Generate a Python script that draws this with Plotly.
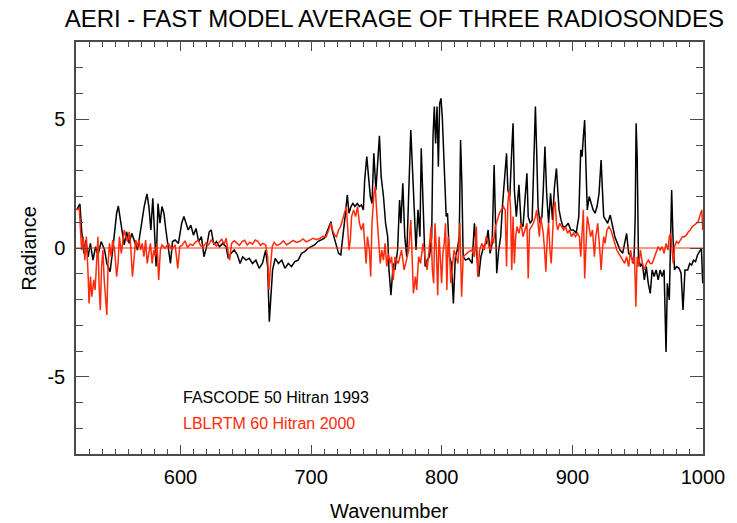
import plotly.graph_objects as go

# FASCODE 50 / Hitran 1993 residual (AERI minus fast model), radiance units
fascode_wn = [
    520.5, 523.0, 524.3, 526.0, 527.5, 529.3, 531.0, 533.0, 535.0, 536.8, 539.3, 541.9, 543.6, 546.1,
    548.1, 549.9, 551.1, 552.4, 553.9, 555.2, 556.9, 558.7, 560.7, 562.7, 564.7, 567.0, 568.7, 570.7,
    572.2, 574.3, 575.8, 577.3, 578.8, 580.3, 581.3, 582.8, 584.3, 585.8, 587.3, 588.8, 590.8, 592.3,
    593.9, 595.9, 598.4, 600.9, 602.6, 604.1, 605.9, 607.9, 609.9, 611.9, 613.9, 616.0, 618.0, 620.0,
    622.0, 623.5, 625.5, 627.5, 629.8, 632.3, 634.8, 636.6, 638.6, 641.1, 643.6, 645.6, 647.6, 650.1,
    652.6, 655.1, 657.7, 660.2, 662.7, 665.2, 666.7, 668.0, 669.2, 670.5, 672.5, 675.0, 677.5, 680.0,
    682.5, 685.0, 687.5, 690.1, 692.6, 695.1, 697.6, 700.1, 702.6, 705.1, 707.6, 710.2, 712.7, 715.2,
    716.4, 717.9, 719.4, 721.0, 722.7, 724.5, 726.0, 727.7, 729.0, 730.5, 732.0, 733.5, 735.3, 737.0,
    738.5, 740.0, 741.0, 742.6, 744.0, 745.3, 746.6, 748.0, 749.6, 751.0, 752.3, 753.6, 755.4, 757.0,
    758.6, 759.6, 761.1, 762.9,
    764.2, 766.2, 767.7, 768.7, 770.2, 771.7, 773.2, 774.7, 776.3, 777.3, 778.3, 779.3, 780.3, 781.8,
    783.3, 784.3, 785.3, 786.3, 787.3, 788.8, 790.6, 792.3, 793.3, 794.3, 795.3, 796.4, 797.4, 798.4,
    799.4, 800.4, 801.4, 802.4, 803.4, 804.4, 805.9, 807.4, 808.9, 810.4, 811.9, 813.4, 814.4, 815.4,
    816.4, 818.2, 820.7, 823.2, 825.0, 826.5, 828.3, 830.0, 832.0, 834.0, 835.5, 837.0, 838.6, 840.1,
    841.1, 842.1, 843.6, 845.1, 846.6, 848.1, 849.6, 850.6, 852.1, 853.6, 854.6, 855.6, 857.1, 859.1,
    860.7, 862.2, 863.7, 865.2, 866.2, 867.7, 869.2, 870.7, 871.7, 872.7, 873.7, 875.2, 876.7, 877.7,
    879.0, 880.3, 881.8, 883.3, 884.8, 886.3, 887.8, 888.8, 889.8, 891.3, 892.8, 894.8, 896.8, 898.8,
    900.8, 902.9, 904.9, 906.4, 907.4, 908.4, 909.4, 910.4, 911.4, 912.9, 914.4, 915.9, 917.4, 918.9,
    920.4, 922.0, 923.0, 924.0, 925.5, 927.0, 929.0, 930.5, 932.5, 934.5, 936.5, 938.5, 940.0, 941.5,
    943.1, 945.1, 947.1, 948.1, 948.8, 949.6, 950.6, 952.1, 953.6, 955.1, 956.6, 958.1, 959.6, 961.1,
    962.6, 964.1, 965.7, 967.2, 968.7, 970.2, 971.7, 972.7, 974.2, 975.2, 976.0, 977.0, 978.2, 979.7,
    981.7, 983.2, 984.7, 986.2, 988.3, 989.8, 991.3, 992.8, 994.3, 995.8, 997.8, 998.8, 999.8,
]
fascode_rad = [
    1.48, 1.71, 0.70, -0.21, 0.31, -0.34, 0.18, -0.47, 0.05, -0.27, 0.25, -0.08, -0.60, -0.92,
    -0.08, 0.70, 1.35, 1.63, 1.09, 0.63, 0.12, 0.63, 0.18, 0.57, 0.25, -0.08, 0.44, 1.09,
    1.61, 2.10, 1.61, 0.70, 1.93, 0.44, -0.72, 1.73, 0.96, 1.61, 1.35, 0.70, -0.08, -0.60,
    0.25, 0.31, 0.18, 0.96, 1.22, 1.02, 0.70, 0.89, 0.50, 0.76, 0.25, 0.44, -0.34, 0.05,
    0.63, 0.70, 0.12, 0.25, 0.05, 0.18, 0.05, -0.40, -0.21, -0.08, -0.27, -0.60, -0.34, -0.47,
    -0.40, -0.60, -0.47, -0.79, -0.60, -0.08, -0.72, -2.86, -1.63, -0.85, -0.40, -0.60, -0.47, -0.79,
    -0.60, -0.72, -0.53, -0.47, -0.21, -0.14, -0.01, 0.05, 0.12, 0.25, 0.31, 0.38, 0.70, 1.02,
    0.63, 0.38, 0.05, -0.21, -0.27, 0.44, 1.22, 2.06, 1.35, 1.61, 1.73, 1.61, 1.73, 1.61,
    1.67, 1.48, 2.64, 3.55, 2.77, 2.00, 1.73, 3.68, 2.25, 3.42, 4.36, 2.77, 2.00, 0.96,
    0.44, -0.85, -1.83, -0.60,
    -0.85, -0.08, 1.86, 0.96, 2.51, 0.44, -0.34, 2.12, 4.58, 3.42, 2.25, 1.61, -0.08, 1.48,
    0.44, 3.87, 2.25, 0.44, -0.72, -0.47, -0.34, 0.44, 4.32, 5.49, 4.06, 5.49, 3.16, 5.62,
    5.81, 5.10, 3.94, 2.77, 1.22, 1.35, -0.34, -0.60, -2.15, -0.34, -0.08, 0.44, 4.19, 2.51,
    -0.34, -0.47, -0.40, -0.60, 0.96, -0.08, -1.11, -0.34, 0.05, 0.18, 0.70, -0.21, 0.18, 3.22,
    1.48, -0.98, -0.08, 0.44, 1.73, 2.77, 3.68, 2.25, 2.00, 3.81, 4.84, 2.25, 1.22, 2.45,
    0.96, 0.83, 1.86, 2.90, 1.22, 0.96, 1.09, 3.55, 5.49, 3.68, 1.61, 0.96, 1.22, 2.25,
    3.94, 2.12, 0.96, 2.12, 1.09, 2.38, 3.09, 2.25, 1.48, 1.09, 0.83, 0.83, 0.96, 0.70,
    0.70, 0.57, 1.22, 3.81, 3.55, 4.32, 4.97, 3.16, 1.48, 2.00, 1.73, 1.48, 1.35, 1.61,
    2.12, 3.42, 2.25, 1.22, 1.09, 0.96, 1.28, 0.96, 0.44, 0.18, -0.08, -0.21, 0.18, 0.57,
    -0.21, -0.34, -0.60, 1.22, 4.84, 3.55, -0.34, -0.72, -0.60, -1.24, -0.72, -1.37, -1.76, -0.85,
    -1.11, -0.85, -1.24, -0.85, -1.11, -0.85, -4.04, -1.37, -2.02, -0.08, 2.25, 0.44, -0.85, -0.72,
    -0.79, -0.98, -2.41, -0.85, -0.85, -0.60, -0.66, -0.47, -0.53, -0.27, -0.08, -0.01, -1.37,
]

# LBLRTM 60 / Hitran 2000 residual
lblrtm_wn = [
    520.5, 522.5, 524.3, 525.5, 526.8, 528.0, 529.3, 530.0, 531.1, 532.1, 533.6, 534.6, 535.6, 536.8,
    537.6, 538.6, 539.6, 540.6, 541.6, 542.6, 543.6, 544.6, 545.6, 546.9, 548.1, 549.6, 551.1, 552.2,
    553.2, 554.7, 555.7, 556.9, 558.2, 559.4, 560.7, 561.9, 563.2, 564.5, 565.7, 567.0, 568.2, 569.5,
    570.7, 572.0, 573.3, 574.5, 575.8, 577.0, 578.3, 579.5, 580.8, 582.0, 583.3, 584.6, 585.8, 588.3,
    590.8, 593.3, 595.9, 597.9, 599.4, 601.4, 603.4, 605.4, 607.4, 609.4, 611.4, 613.4, 615.5, 617.5,
    619.5, 621.5, 623.5, 625.5, 627.5, 629.5, 631.5, 633.5, 635.0, 636.6, 637.6, 639.1, 641.1, 643.1,
    645.1, 647.1, 649.1, 651.1, 653.1, 655.1, 657.2, 659.2, 661.2, 663.2, 665.2, 666.7, 667.7, 668.7,
    670.2, 671.7, 673.7, 676.2, 678.8, 681.3, 683.8, 686.3, 688.8, 691.3, 693.8, 696.3, 698.8, 701.4,
    703.9, 706.4, 708.9, 711.4, 713.4, 715.2, 716.4, 717.9, 719.4, 721.0, 722.5, 724.0, 725.5, 727.0,
    728.0, 729.0, 730.0, 731.0, 732.5, 734.0, 735.5, 737.0, 738.5, 740.0, 741.0, 742.1, 743.1, 744.6,
    745.6, 746.6, 748.1, 749.1, 750.1, 751.6, 752.9, 754.1, 755.4, 756.6, 757.9, 759.1, 760.4, 761.6,
    762.9,
    764.2, 766.7, 769.2, 771.2, 773.0, 774.7, 776.3, 777.3, 778.3, 779.8, 780.8, 782.3, 783.8, 785.6,
    787.3, 788.8, 790.3, 791.8, 792.8, 793.8, 794.8, 795.9, 796.9, 797.9, 798.9, 799.9, 800.9, 801.9,
    802.9, 803.9, 804.9, 805.9, 806.9, 808.2, 809.4, 810.9, 812.4, 813.9, 815.2, 816.4, 818.2, 820.7,
    823.2, 825.0, 826.5, 827.5, 829.0, 830.8, 832.5, 834.0, 835.5, 837.0, 838.6, 839.6, 841.1, 842.6,
    844.1, 845.6, 847.1, 848.6, 849.6, 850.6, 851.6, 852.6, 853.6, 854.6, 855.6, 856.6, 857.6, 859.1,
    860.7, 862.2, 863.7, 865.2, 866.2, 867.2, 868.7, 870.2, 871.7, 872.7, 873.7, 874.7, 875.7, 876.7,
    877.7, 878.7, 879.7, 880.8, 881.8, 882.8, 883.8, 884.8, 885.8, 886.8, 887.8, 888.8, 890.3, 891.8,
    893.3, 894.8, 896.3, 897.8, 899.3, 900.8, 902.4, 903.9, 905.4, 906.4, 907.4, 908.4, 909.4, 910.4,
    911.4, 912.4, 913.9, 915.4, 916.9, 917.9, 919.4, 921.0, 922.0, 923.0, 924.0, 925.0, 926.5, 928.0,
    929.5, 931.0, 932.5, 934.0, 935.5, 937.0, 938.5, 940.0, 941.5, 943.1, 944.6, 946.1, 947.6, 948.6,
    949.6, 950.6, 952.1, 953.6, 955.1, 956.6, 958.1, 959.6, 961.1, 962.6, 964.1, 965.7, 967.2, 968.7,
    970.2, 971.7, 973.2, 974.2, 975.2, 976.2, 977.2, 978.2, 979.7, 981.2, 982.7, 984.2, 985.7, 987.3,
    988.8, 990.3, 991.8, 993.3, 994.8, 996.3, 997.8, 999.1, 999.8,
]
lblrtm_rad = [
    1.48, 1.54, -0.08, 0.44, -0.47, 0.44, -1.11, -2.15, -1.11, -1.89, -1.24, -1.63, -0.72, 0.44,
    -1.37, -2.41, -0.72, -0.08, -1.24, -2.15, -2.60, -0.60, 0.18, -0.34, 0.31, -0.08, -1.11, -0.60,
    0.44, -0.21, 0.18, 0.70, 0.44, 0.25, 0.63, 0.05, -1.11, -0.34, 0.31, 0.05, 0.31, -0.08,
    0.18, -0.34, 0.31, -0.60, -0.08, 0.18, -0.60, -0.08, -0.34, 0.18, -1.24, -0.08, 0.12, -0.01,
    0.18, -0.08, 0.12, -0.79, 0.05, 0.12, 0.28, 0.02, 0.15, 0.10, 0.22, 0.30, 0.08, 0.05,
    0.20, 0.12, 0.31, 0.18, 0.08, 0.22, 0.34, 0.15, 0.38, -0.21, -0.47, 0.18, 0.28, 0.20,
    0.10, 0.25, 0.30, 0.12, 0.22, 0.15, 0.31, 0.26, 0.10, 0.18, 0.12, -0.34, -1.63, -0.85,
    0.05, 0.22, 0.10, 0.15, 0.28, 0.12, 0.20, 0.30, 0.22, 0.26, 0.35, 0.24, 0.30, 0.38,
    0.33, 0.36, 0.45, 0.42, 0.70, 0.96, 0.70, 0.50, 0.44, 0.70, 0.83, 1.15, 1.35, 1.61,
    0.83, -0.08, 0.31, 1.22, 1.48, 1.22, 1.61, 0.96, 0.70, 0.96, 0.18, -0.60, 0.44, -0.08,
    -1.11, 0.96, 2.12, 2.38, 1.48, 0.44, -0.60, -0.08, -0.47, 0.18, -0.72, -0.21, -0.60, -0.34,
    -1.24,
    -0.34, -0.60, -0.08, -0.85, -0.47, -0.08, 1.09, -0.08, -1.76, -1.11, -1.63, -0.34, -0.60, 0.18,
    -0.34, -0.85, -0.08, 0.83, -0.85, -1.37, 0.96, -0.08, -1.83, 0.44, -0.34, -1.37, -0.21, 0.18,
    0.96, -1.63, 0.44, -0.08, -1.37, -0.60, -0.08, -0.34, -0.60, 0.96, -1.89, -0.34, -0.27, -0.14,
    -0.08, -0.34, 0.83, -1.11, -0.08, 0.18, -0.08, 0.44, 0.18, -0.08, 0.44, 0.18, 0.83, 1.09,
    1.35, 1.48, 1.61, 1.48, -0.72, 1.73, 2.25, 1.61, -0.85, 1.22, -0.60, 0.44, 0.83, 0.57,
    0.96, 0.44, 0.70, 0.96, -1.18, 0.70, 0.83, 0.96, 1.22, 1.48, 0.96, 0.44, 1.22, 0.96,
    0.57, -0.08, -0.92, 0.44, 0.96, -0.08, -0.60, 0.44, 1.61, 1.80, 0.96, 0.70, 0.96, 0.83,
    0.70, 0.83, 0.57, 0.70, 0.44, 0.57, 0.44, 0.57, 0.44, -0.34, 0.70, 1.48, -1.18, 0.44,
    1.22, 0.96, 0.44, 0.70, -0.34, 0.44, 0.96, -0.08, -0.85, -0.08, 0.44, 0.18, 0.70, 0.83,
    0.70, 0.44, 0.18, -0.08, -0.21, -0.34, -0.47, -0.60, -0.34, -0.72, -0.08, -0.60, -0.34, -2.28,
    -0.34, -0.72, -0.08, -0.60, -0.85, -0.60, -0.47, -0.60, -0.60, -0.40, -0.21, 0.05, -0.08, 0.05,
    -0.21, 0.18, -0.08, 0.44, 0.57, 0.05, -0.60, 0.05, 0.25, 0.18, 0.31, 0.44, 0.44, 0.50,
    0.63, 0.70, 0.83, 0.89, 0.96, 1.02, 1.28, 1.48, 0.70,
]

# zero reference line
zero_wn = [520, 1000]
zero_rad = [0, 0]

x_range = [520, 1000]
y_range = [-8, 8]
y_tickvals = [-5, 0, 5]
y_ticktext = ["-5", "0", "5"]

title_text = "AERI - FAST MODEL AVERAGE OF THREE RADIOSONDES"
legend_labels = ["FASCODE 50 Hitran 1993", "LBLRTM 60 Hitran 2000"]
legend_pos = [(600, -5.8), (600, -6.8)]

BLACK = "#000000"
RED = "#ff2a0a"
AXIS = "#4a4a4a"
FONT = "Liberation Sans, Arial, Helvetica, sans-serif"

fig = go.Figure()
fig.add_trace(go.Scatter(x=fascode_wn, y=fascode_rad, mode="lines",
                         line=dict(color=BLACK, width=1.5), name=legend_labels[0]))
fig.add_trace(go.Scatter(x=lblrtm_wn, y=lblrtm_rad, mode="lines",
                         line=dict(color=RED, width=1.5), name=legend_labels[1]))
fig.add_trace(go.Scatter(x=zero_wn, y=zero_rad, mode="lines",
                         line=dict(color=RED, width=1), showlegend=False))

for (lx, ly), label, col in zip(legend_pos, legend_labels, [BLACK, RED]):
    fig.add_annotation(x=lx, y=ly, xref="x", yref="y", text=label, showarrow=False,
                       xanchor="left", yanchor="middle",
                       font=dict(family=FONT, size=16, color=col))

fig.add_annotation(x=0.5, y=0, xref="paper", yref="paper", yshift=-57,
                   text="Wavenumber", showarrow=False, xanchor="center", yanchor="middle",
                   font=dict(family=FONT, size=20, color="black"))
fig.add_annotation(x=-0.0754, y=0.5, xref="paper", yref="paper", textangle=-90,
                   text="Radiance", showarrow=False, xanchor="center", yanchor="middle",
                   font=dict(family=FONT, size=20, color="black"))

fig.update_layout(
    width=737, height=523,
    margin=dict(l=76, r=24, t=42, b=69),
    paper_bgcolor="white", plot_bgcolor="white",
    showlegend=False,
    font=dict(family=FONT, size=20, color="black"),
    title=dict(text=title_text, x=0.535, xanchor="center", y=1 - 19 / 523, yanchor="middle",
               font=dict(family=FONT, size=24, color="black")),
)
fig.update_xaxes(
    range=x_range, tick0=0, dtick=100, showgrid=False, zeroline=False,
    showline=True, linecolor=AXIS, linewidth=1.5, mirror="ticks",
    ticks="inside", ticklen=9, tickwidth=1, tickcolor=AXIS,
    ticklabelstandoff=4,
    minor=dict(dtick=10, tick0=0, ticks="inside", ticklen=5, tickwidth=1, tickcolor=AXIS, showgrid=False),
    tickfont=dict(family=FONT, size=20, color="black"),
)
fig.update_yaxes(
    range=y_range, tickmode="array", tickvals=y_tickvals, ticktext=y_ticktext,
    showgrid=False, zeroline=False,
    showline=True, linecolor=AXIS, linewidth=1.5, mirror="ticks",
    ticks="inside", ticklen=13, tickwidth=1, tickcolor=AXIS,
    ticklabelstandoff=5,
    minor=dict(tickmode="linear", dtick=1, tick0=0, ticks="inside", ticklen=7, tickwidth=1,
               tickcolor=AXIS, showgrid=False),
    tickfont=dict(family=FONT, size=20, color="black"),
)

fig.write_html("out.html")
